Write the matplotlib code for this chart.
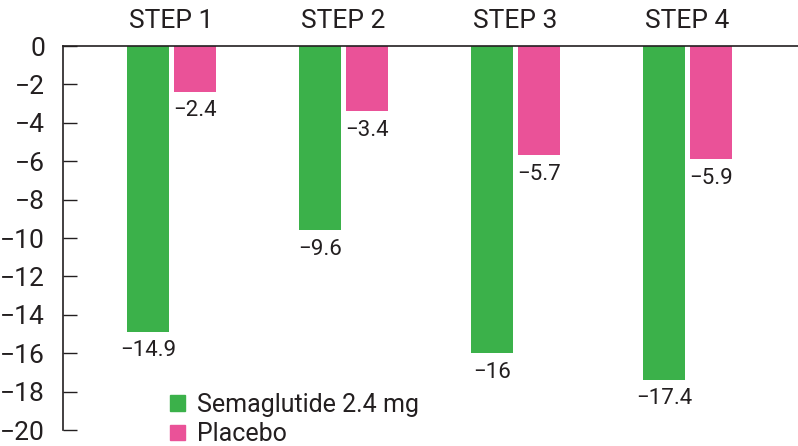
import matplotlib
matplotlib.use("Agg")
import matplotlib.pyplot as plt
from matplotlib.patches import Patch
import numpy as np

plt.rcParams['font.family'] = ['Roboto', 'DejaVu Sans']

categories = ["STEP 1", "STEP 2", "STEP 3", "STEP 4"]
semaglutide = [-14.9, -9.6, -16.0, -17.4]
placebo = [-2.4, -3.4, -5.7, -5.9]
sema_labels = ["\u221214.9", "\u22129.6", "\u221216", "\u221217.4"]
plac_labels = ["\u22122.4", "\u22123.4", "\u22125.7", "\u22125.9"]
yticks = [0, -2, -4, -6, -8, -10, -12, -14, -16, -18, -20]

green = "#3BB14A"
pink = "#EA5298"
textc = "#231F20"

fig = plt.figure(figsize=(7.98, 4.46), dpi=100)
ax = fig.add_axes([63/798, 16/446, 1 - 63/798, 384/446])

x = np.arange(len(categories))
w = 0.244
off = 0.138
ax.bar(x - off, semaglutide, width=w, color=green)
ax.bar(x + off, placebo, width=w, color=pink)

for xi, v, lab in zip(x - off, semaglutide, sema_labels):
    ax.annotate(lab, (xi, v), xytext=(0, -6), textcoords="offset points",
                ha="center", va="top", fontsize=16, color=textc)
for xi, v, lab in zip(x + off, placebo, plac_labels):
    ax.annotate(lab, (xi, v), xytext=(0, -6), textcoords="offset points",
                ha="center", va="top", fontsize=16, color=textc)

ax.set_xlim(-0.631, 3.642)
ax.set_ylim(-20, 0)
ax.set_yticks(yticks)
ax.set_yticklabels([("\u2212%d" % -t) if t < 0 else "0" for t in yticks])
ax.tick_params(axis="y", direction="in", length=10, width=1, color=textc,
               labelsize=19, labelcolor=textc, pad=13)
ax.xaxis.tick_top()
ax.set_xticks(x)
ax.set_xticklabels(categories)
ax.tick_params(axis="x", length=0, labelsize=19, labelcolor=textc, pad=9)

for s in ["right", "bottom"]:
    ax.spines[s].set_visible(False)
for s in ["left", "top"]:
    ax.spines[s].set_color(textc)
    ax.spines[s].set_linewidth(1.2)

handles = [Patch(color=green, label="Semaglutide 2.4 mg"), Patch(color=pink, label="Placebo")]
ax.legend(handles=handles, loc="upper left", bbox_to_anchor=(0.145, 0.097),
          frameon=False, fontsize=18, handlelength=0.6, handleheight=0.6,
          handletextpad=0.5, labelspacing=0.22, borderpad=0, borderaxespad=0,
          labelcolor=textc)

fig.savefig("out.png", dpi=100)
